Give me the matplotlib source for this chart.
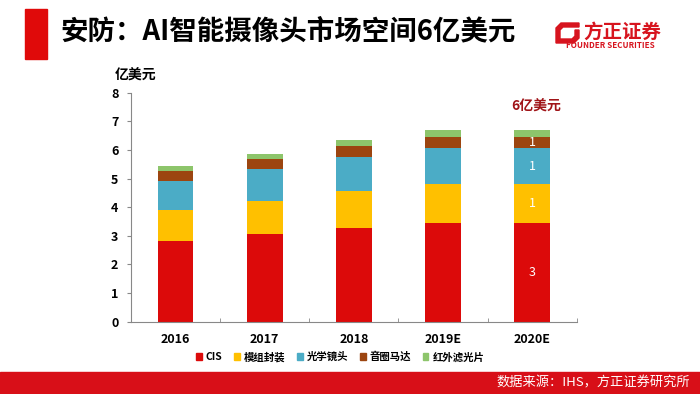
import matplotlib.pyplot as plt
import matplotlib.patches as mpatches
import numpy as np

plt.rcParams['font.family'] = ['Noto Sans CJK SC', 'DejaVu Sans']

# datos
years = ["2016", "2017", "2018", "2019E", "2020E"]
cis = [2.82, 3.06, 3.29, 3.46, 3.46]
modulo = [1.08, 1.15, 1.27, 1.34, 1.34]
lente = [1.02, 1.11, 1.20, 1.26, 1.27]
motor = [0.34, 0.36, 0.38, 0.41, 0.40]
filtro = [0.17, 0.19, 0.20, 0.21, 0.21]
series_names = ["CIS", "模组封装", "光学镜头", "音圈马达", "红外滤光片"]
colores = ["#DC0A0A", "#FFC000", "#4BACC6", "#9C4510", "#8DC56B"]
etiquetas_2020 = ["3", "1", "1", "1", ""]

fig = plt.figure(figsize=(7, 3.94), dpi=100)
ax = fig.add_axes([0.187, 0.1835, 0.637, 0.5812])

x = np.arange(len(years))
bottom = np.zeros(len(years))
handles = []
for vals, nombre, col, lab in zip([cis, modulo, lente, motor, filtro],
                                  series_names, colores, etiquetas_2020):
    bars = ax.bar(x, vals, 0.4, bottom=bottom, color=col, label=nombre)
    if lab:
        ax.text(x[-1], bottom[-1] + vals[-1] / 2, lab, ha='center', va='center',
                color='white', fontsize=9)
    bottom += np.array(vals)
    handles.append(mpatches.Patch(color=col, label=nombre))

ax.set_xlim(-0.5, 4.5)
ax.set_ylim(0, 8)
ax.set_yticks(range(0, 9))
ax.set_xticks(x)
ax.set_xticklabels(years, fontsize=9, fontweight='bold')
ax.tick_params(axis='x', length=0, pad=8)
ax.set_xticks(np.arange(-0.5, 5, 1), minor=True)
ax.tick_params(axis='x', which='minor', direction='in', length=3, color='#888888')
ax.tick_params(axis='y', length=3, color='#888888', labelsize=9, pad=6)
for t in ax.get_yticklabels():
    t.set_fontweight('bold')
for s in ['top', 'right']:
    ax.spines[s].set_visible(False)
for s in ['left', 'bottom']:
    ax.spines[s].set_color('#888888')

ax.text(0.01, 1.045, "亿美元", transform=ax.transAxes, ha='center', va='bottom',
        fontsize=10, fontweight='bold')
ax.text(4.04, 7.5, "6亿美元", ha='center', va='center', fontsize=10,
        fontweight='bold', color='#A01418')

fig.legend(handles=handles, loc='center', bbox_to_anchor=(0.486, 0.094), ncol=5,
           frameon=False, handlelength=0.55, handleheight=0.55,
           handletextpad=0.4, columnspacing=1.1,
           prop={'weight': 'bold', 'size': 7.5})

# titulo
fig.patches.append(mpatches.Rectangle((25 / 700, 1 - 59 / 394), 22 / 700, 50 / 394,
                                      transform=fig.transFigure, color='#E00A0A'))
fig.text(60 / 700, 1 - 31 / 394, "安防：AI智能摄像头市场空间6亿美元", fontsize=19.8,
         fontweight='bold', va='center', ha='left')

# logo
logo = [(556, 43), (556, 28), (561, 23), (579, 23), (579, 27), (563, 27), (560, 30),
        (560, 39), (572, 39), (575, 36), (575, 30), (579, 30), (579, 38), (574, 43)]
fig.patches.append(mpatches.Polygon([(px / 700, 1 - py / 394) for px, py in logo],
                                    closed=True, transform=fig.transFigure, color='#D7141E'))
fig.text(622 / 700, 1 - 32 / 394, "方正证券", fontsize=14, fontweight='bold',
         color='#D7141E', ha='center', va='center')
fig.text(610 / 700, 1 - 46 / 394, "FOUNDER SECURITIES", fontsize=5.8, fontweight='bold',
         color='#D7141E', ha='center', va='center')

# barra inferior
fig.patches.append(mpatches.Rectangle((0, 0), 1, 22 / 394, transform=fig.transFigure,
                                      color='#D80F18'))
fig.text(690 / 700, 11 / 394, "数据来源：IHS，方正证券研究所", fontsize=9.5,
         color='white', ha='right', va='center')

fig.savefig("out.png", dpi=100)
